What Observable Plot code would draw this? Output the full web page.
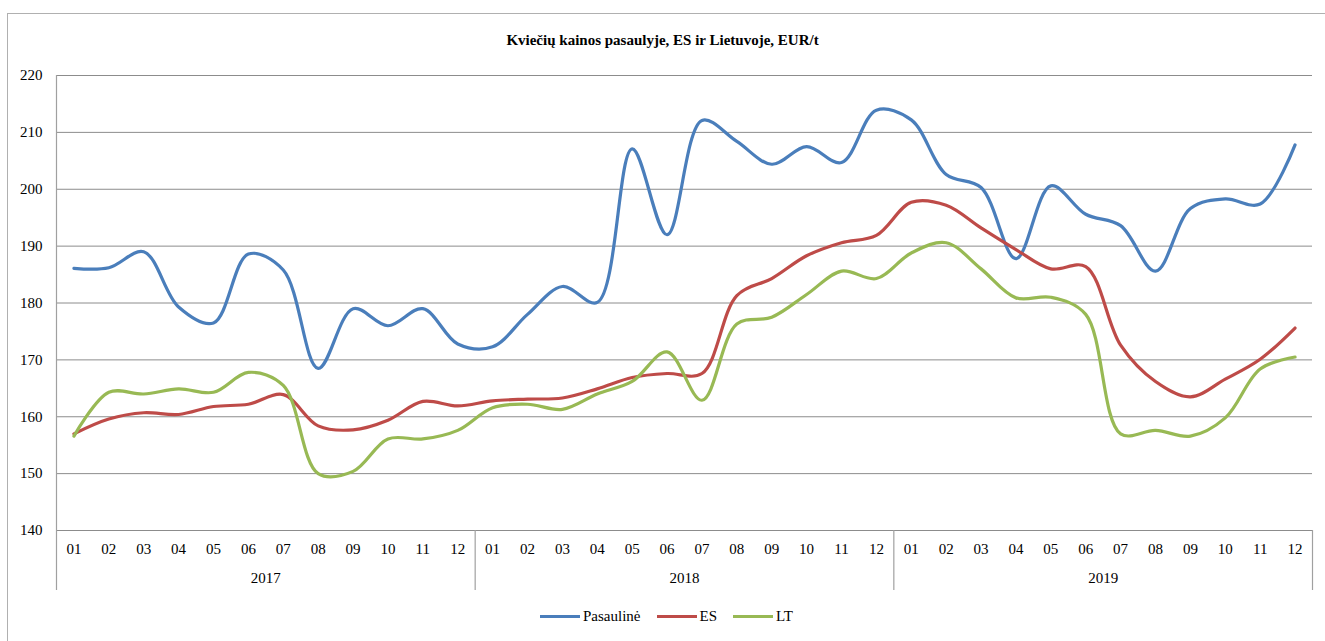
<!DOCTYPE html>
<html><head><meta charset="utf-8">
<script src="https://cdn.jsdelivr.net/npm/d3@7"></script>
<script src="https://cdn.jsdelivr.net/npm/@observablehq/plot@0.6"></script>
<style>
body{margin:0;background:#fff;font-family:"Times New Roman",Tinos,"Liberation Serif",serif;color:#000;}
#wrap{position:relative;width:1325px;height:641px;overflow:hidden;}
#frame{position:absolute;left:7px;top:13px;width:1400px;height:700px;border:1px solid #b0b0b0;box-sizing:border-box;}
#title{position:absolute;left:0;top:30px;width:1325px;text-align:center;font-weight:bold;font-size:15px;line-height:20px;}
#chart{position:absolute;left:0;top:60px;}
#legend{position:absolute;left:540px;top:606px;display:flex;align-items:center;font-size:15px;line-height:20px;}
#legend .sw{display:inline-block;width:40px;height:3px;margin-right:3px;}
#legend .item{display:flex;align-items:center;margin-right:16px;}
#chart svg, #chart svg text{font-family:"Times New Roman",Tinos,"Liberation Serif",serif !important;}
</style>
</head><body>
<div id="wrap">
<div id="frame"></div>
<div id="title">Kviečių kainos pasaulyje, ES ir Lietuvoje, EUR/t</div>
<div id="chart"></div>
<div id="legend"></div>
</div>
<script>
const years = ["2017", "2018", "2019"];
const months = ["01","02","03","04","05","06","07","08","09","10","11","12"];
const yTicks = [140, 150, 160, 170, 180, 190, 200, 210, 220];
const seriesNames = ["Pasaulinė", "ES", "LT"];
const seriesColors = ["#4a7ebb", "#be4b48", "#98b954"];

const pasauline = [186.1,186.2,189.0,179.3,176.5,188.6,185.8,168.5,179.0,176.0,179.0,172.8,
  172.3,178.0,182.9,180.1,207.1,192.0,212.1,208.4,204.4,207.5,204.7,213.9,
  212.2,202.6,200.3,187.8,200.6,195.6,193.6,185.6,196.6,198.3,197.4,207.8];
const es = [157.0,159.6,160.7,160.4,161.8,162.2,163.9,158.4,157.7,159.4,162.7,161.9,
  162.8,163.1,163.3,164.9,166.9,167.6,167.6,181.3,184.3,188.3,190.6,191.9,
  197.7,197.2,193.2,189.4,186.0,186.4,172.6,166.2,163.5,166.6,170.1,175.6];
const lt = [156.6,164.3,164.0,164.9,164.3,167.8,165.5,150.0,150.4,156.1,156.1,157.6,
  161.6,162.2,161.3,164.0,166.2,171.4,162.9,176.3,177.5,181.5,185.6,184.3,
  188.8,190.6,186.0,180.9,181.0,178.0,157.0,157.6,156.6,159.8,168.4,170.5];

const seriesValues = [pasauline, es, lt];
const rows = [];
seriesNames.forEach((name, s) => {
  seriesValues[s].forEach((v, i) => rows.push({series: name, i, year: years[Math.floor(i / 12)], month: months[i % 12], value: v}));
});
const n = years.length * months.length;
const idx = d3.range(n);
const boundaries = d3.range(years.length + 1).map(k => ({x: k * 12 - 0.5, top: k === 0 ? yTicks[yTicks.length - 1] : yTicks[0]}));
const yearLabels = years.map((y, k) => ({year: y, x: k * 12 + 5.5}));

const chart = Plot.plot({
  width: 1325,
  height: 535,
  marginLeft: 56,
  marginRight: 13,
  marginTop: 15,
  marginBottom: 65,
  style: {fontFamily: "'Times New Roman','Liberation Serif',serif", fontSize: "15px", background: "transparent", overflow: "visible"},
  x: {type: "linear", domain: [-0.5, n - 0.5]},
  y: {domain: [yTicks[0], yTicks[yTicks.length - 1]]},
  marks: [
    Plot.ruleY(yTicks, {stroke: "#8c8c8c", strokeWidth: 1}),
    Plot.ruleX(boundaries, {x: "x", y1: "top", y2: yTicks[0], insetBottom: -60, stroke: "#a0a0a0", strokeWidth: 1.2}),
    Plot.axisY(yTicks, {tickSize: 0, tickPadding: 14, fontSize: 15, label: null}),
    Plot.axisX(idx, {tickSize: 0, tickPadding: 13, fontSize: 15, label: null, tickFormat: i => months[i % 12]}),
    Plot.text(yearLabels, {x: "x", y: yTicks[0], dy: 48, text: "year", fontSize: 15}),
    ...seriesNames.map((name, s) => Plot.line(rows.filter(r => r.series === name), {
      x: "i", y: "value", curve: "catmull-rom", stroke: seriesColors[s], strokeWidth: 3.2
    }))
  ]
});
document.getElementById("chart").appendChild(chart);

const legend = document.getElementById("legend");
seriesNames.forEach((name, s) => {
  const item = document.createElement("div");
  item.className = "item";
  const sw = document.createElement("span");
  sw.className = "sw";
  sw.style.background = seriesColors[s];
  const t = document.createElement("span");
  t.textContent = name;
  item.appendChild(sw);
  item.appendChild(t);
  legend.appendChild(item);
});
</script>
</body></html>
